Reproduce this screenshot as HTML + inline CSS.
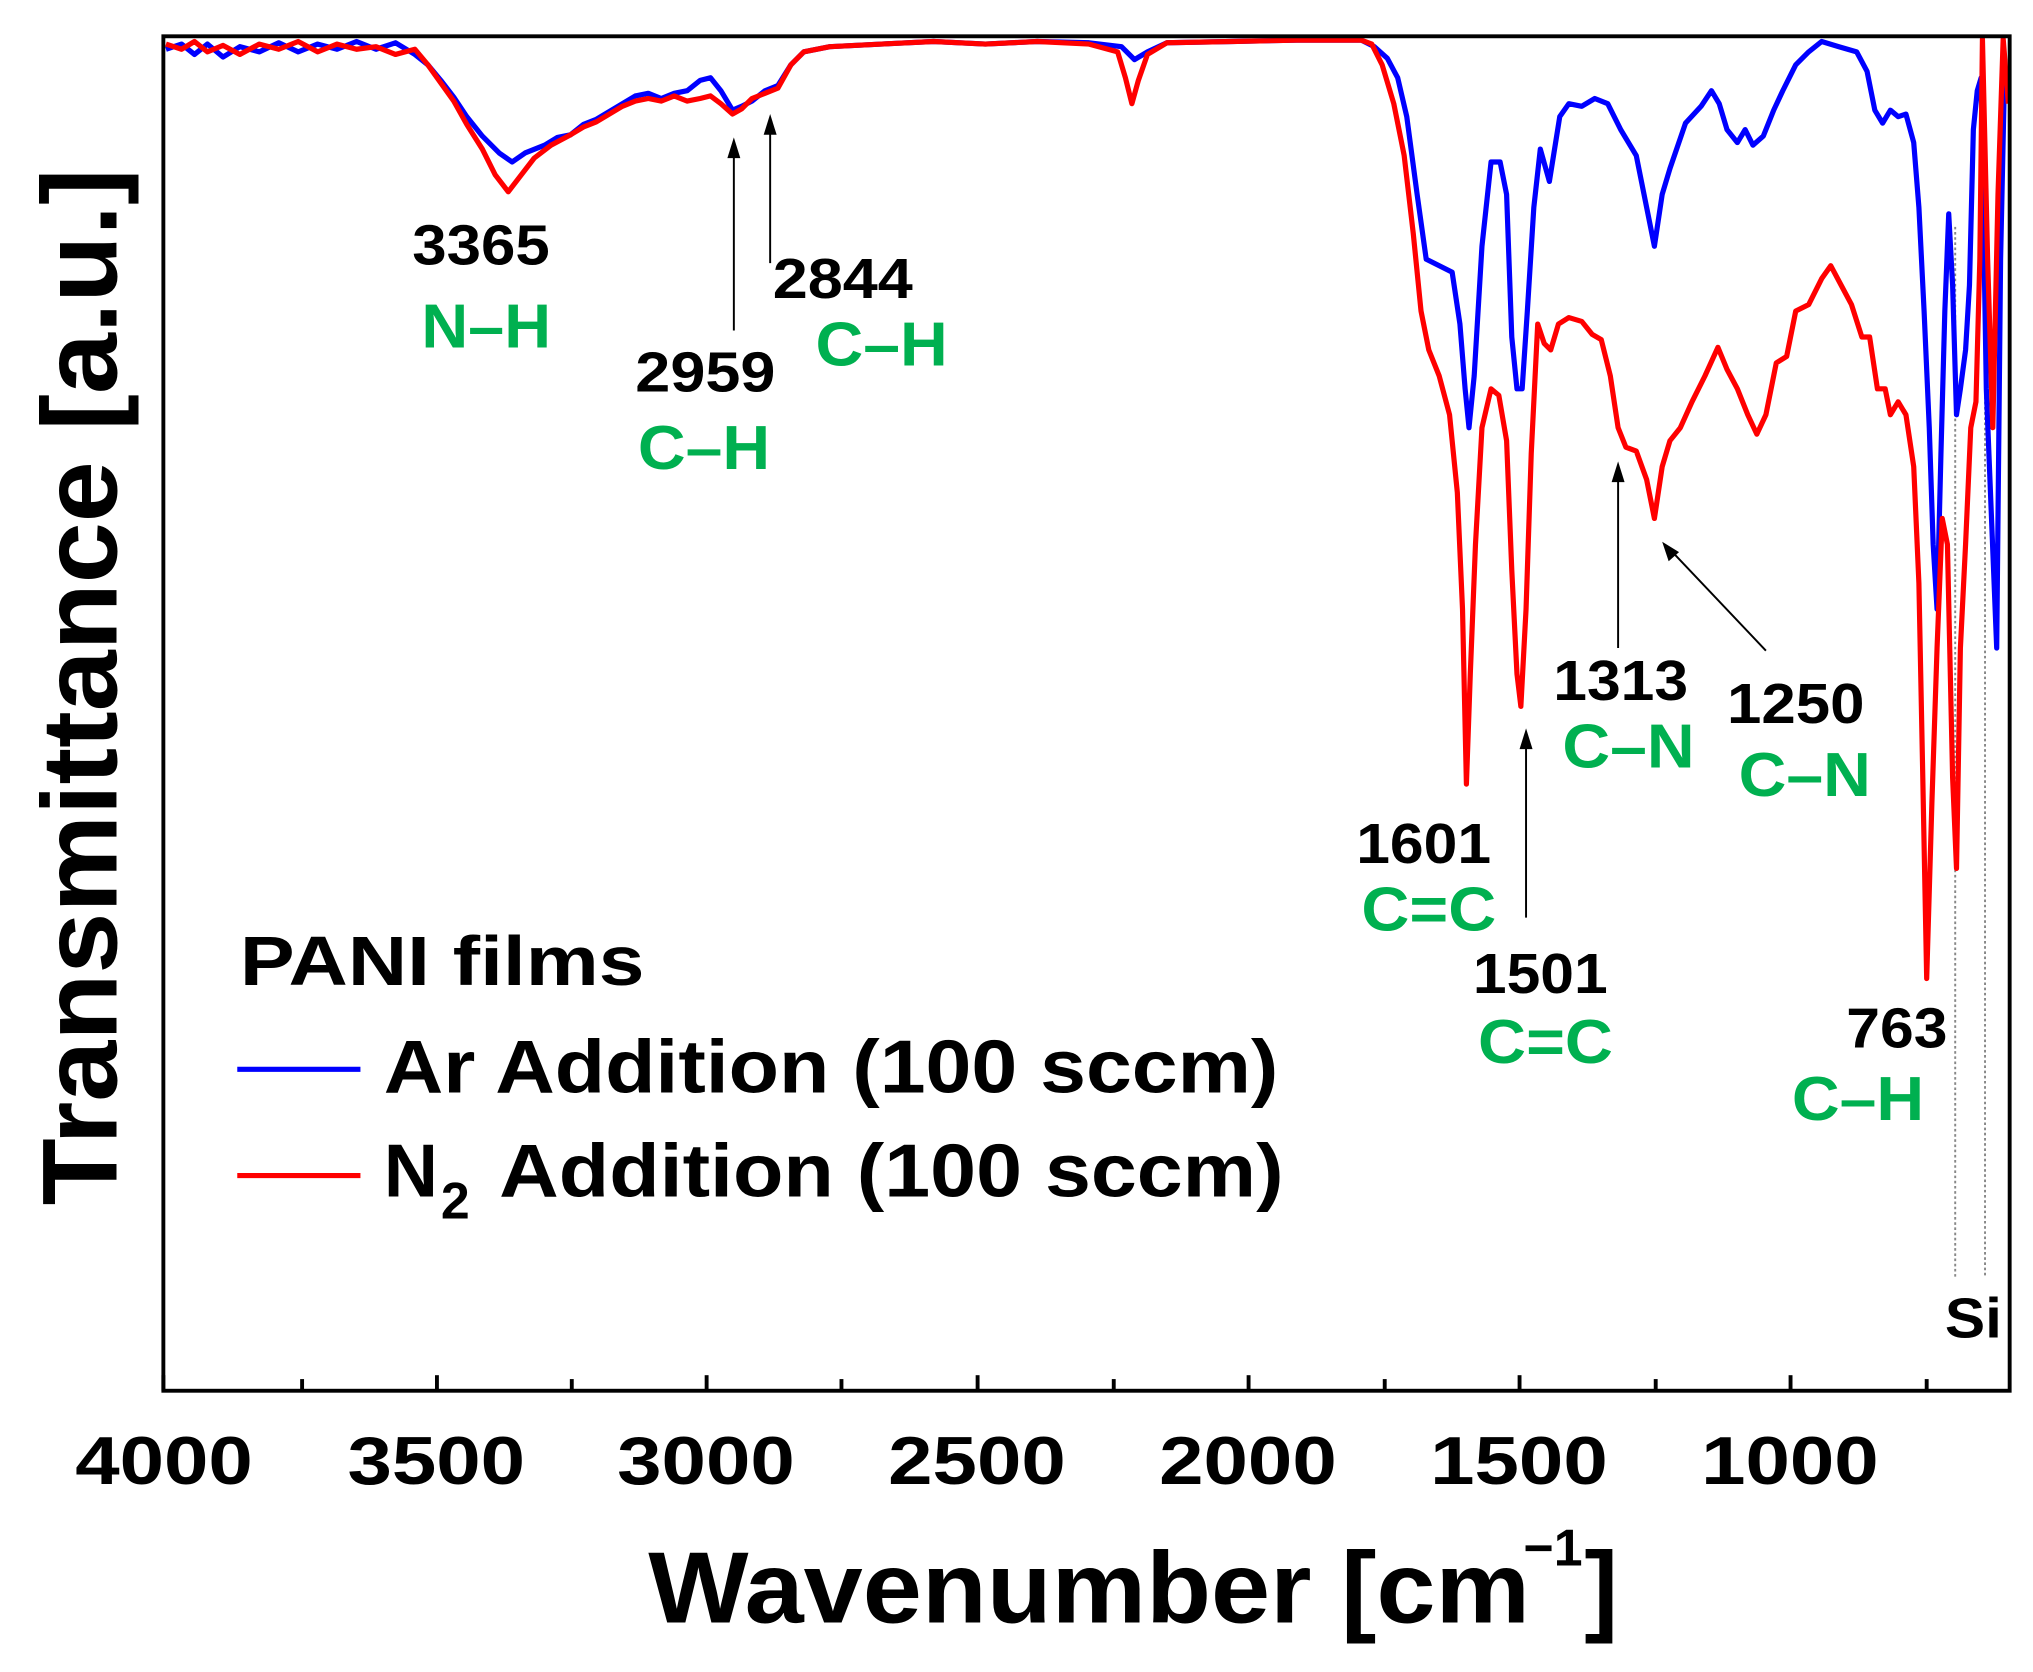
<!DOCTYPE html>
<html><head><meta charset="utf-8"><style>
html,body{margin:0;padding:0;background:#fff;}
svg{display:block;}
text{font-family:"Liberation Sans",Arial,sans-serif;font-weight:bold;}
</style></head><body>
<svg width="2033" height="1672" viewBox="0 0 1568 1290" preserveAspectRatio="none" xmlns="http://www.w3.org/2000/svg">
<rect x="0" y="0" width="1568" height="1290" fill="#fff"/>
<line x1="1508" y1="175" x2="1508" y2="985" stroke="#888" stroke-width="1.5" stroke-dasharray="2,2"/>
<line x1="1531" y1="110" x2="1531" y2="985" stroke="#888" stroke-width="1.5" stroke-dasharray="2,2"/>
<polyline fill="none" stroke="#0000ff" stroke-width="4" stroke-linejoin="round" points="
128,38 140,34 150,42 160,34 172,44 185,36 200,40 215,33 230,40 245,34 260,38 275,32 290,38 305,33 320,42 330,50 340,62 350,75 360,90 372,105 385,118 395,125 405,118 420,112 430,106 440,104 450,96 460,92 470,86 480,80 490,74 500,72 510,76 520,72 530,70 540,62 548,60 556,70 565,85 572,82 580,78 590,70 600,66 610,50 620,40 640,36 680,34 720,32 760,34 800,32 840,33 865,36 875,46 885,40 900,33 950,32 1000,31 1050,31 1060,36 1070,45 1078,60 1085,90 1093,150 1100,200 1110,205 1120,210 1126,250 1130,300 1133,330 1137,290 1143,190 1150,125 1157,125 1162,150 1166,260 1170,300 1174,300 1178,240 1183,160 1188,115 1195,140 1203,90 1210,80 1220,82 1230,76 1240,80 1250,100 1262,120 1270,160 1276,190 1282,150 1288,130 1300,95 1312,82 1320,70 1326,80 1332,100 1340,110 1346,100 1352,112 1360,105 1368,85 1375,70 1385,50 1395,40 1405,32 1418,36 1432,40 1440,55 1446,85 1452,95 1458,85 1464,90 1470,88 1476,110 1480,160 1484,240 1488,330 1491,420 1494,470 1497,350 1500,240 1503,165 1506,220 1509,320 1512,300 1516,270 1519,220 1522,100 1525,70 1528,60 1532,300 1536,400 1540,500 1543,200 1546,60"/>
<polyline fill="none" stroke="#ff0000" stroke-width="4" stroke-linejoin="round" points="
128,34 140,38 150,32 160,40 172,35 185,42 200,34 215,38 230,32 245,40 260,34 275,38 290,36 305,42 320,38 330,50 340,64 350,78 360,96 372,115 382,135 392,148 402,135 412,122 425,112 440,104 450,98 460,94 470,88 480,82 490,78 500,76 510,78 520,74 530,78 540,76 548,74 556,80 565,88 572,84 580,76 590,72 600,68 610,50 620,40 640,36 680,34 720,32 760,34 800,32 840,34 862,40 868,60 873,80 878,62 885,42 900,33 950,32 1000,31 1050,31 1058,34 1066,50 1075,80 1083,120 1090,180 1096,240 1102,270 1110,290 1118,320 1124,380 1128,470 1131,605 1134,520 1138,420 1143,330 1150,300 1156,305 1162,340 1166,440 1170,520 1173,545 1177,470 1181,350 1186,250 1191,265 1196,270 1202,250 1210,245 1220,248 1228,258 1235,262 1242,290 1248,330 1254,345 1262,348 1270,370 1276,400 1282,360 1288,340 1296,330 1305,310 1315,290 1325,268 1332,285 1340,300 1348,320 1355,335 1362,320 1370,280 1378,275 1385,240 1395,235 1405,215 1412,205 1420,220 1428,235 1436,260 1442,260 1448,300 1454,300 1458,320 1464,310 1470,320 1476,360 1480,450 1483,600 1486,755 1490,620 1494,500 1498,400 1502,420 1506,600 1509,670 1512,500 1516,420 1520,330 1524,310 1527,200 1529,30 1533,200 1537,330 1541,150 1545,30 1549,80"/>
<rect x="126" y="28" width="1424" height="1045" fill="none" stroke="#000" stroke-width="3"/>
<g stroke="#000" stroke-width="3">
<line x1="126" y1="1073" x2="126" y2="1061"/><line x1="233" y1="1073" x2="233" y2="1064"/>
<line x1="337" y1="1073" x2="337" y2="1061"/><line x1="441" y1="1073" x2="441" y2="1064"/>
<line x1="545" y1="1073" x2="545" y2="1061"/><line x1="649" y1="1073" x2="649" y2="1064"/>
<line x1="754" y1="1073" x2="754" y2="1061"/><line x1="859" y1="1073" x2="859" y2="1064"/>
<line x1="963" y1="1073" x2="963" y2="1061"/><line x1="1068" y1="1073" x2="1068" y2="1064"/>
<line x1="1172" y1="1073" x2="1172" y2="1061"/><line x1="1277" y1="1073" x2="1277" y2="1064"/>
<line x1="1381" y1="1073" x2="1381" y2="1061"/><line x1="1486" y1="1073" x2="1486" y2="1064"/>
</g>
<g font-size="52" fill="#000">
<text x="58" y="1145" textLength="137" lengthAdjust="spacingAndGlyphs">4000</text>
<text x="268" y="1145" textLength="137" lengthAdjust="spacingAndGlyphs">3500</text>
<text x="476" y="1145" textLength="137" lengthAdjust="spacingAndGlyphs">3000</text>
<text x="685" y="1145" textLength="137" lengthAdjust="spacingAndGlyphs">2500</text>
<text x="894" y="1145" textLength="137" lengthAdjust="spacingAndGlyphs">2000</text>
<text x="1103" y="1145" textLength="137" lengthAdjust="spacingAndGlyphs">1500</text>
<text x="1312" y="1145" textLength="137" lengthAdjust="spacingAndGlyphs">1000</text>
</g>
<text x="500" y="1252" font-size="78" textLength="680" lengthAdjust="spacingAndGlyphs">Wavenumber [cm</text>
<text x="1175" y="1208" font-size="40">−1</text>
<text x="1222" y="1252" font-size="78">]</text>
<text transform="translate(90,930) rotate(-90)" font-size="82" textLength="800" lengthAdjust="spacingAndGlyphs">Transmittance [a.u.]</text>
<text x="185" y="760" font-size="54" textLength="312" lengthAdjust="spacingAndGlyphs">PANI films</text>
<line x1="183" y1="825" x2="278" y2="825" stroke="#0000ff" stroke-width="4"/>
<text x="296" y="843" font-size="58" textLength="690" lengthAdjust="spacingAndGlyphs">Ar Addition (100 sccm)</text>
<line x1="183" y1="907" x2="278" y2="907" stroke="#ff0000" stroke-width="4"/>
<text x="296" y="923" font-size="58">N</text>
<text x="340" y="940" font-size="40">2</text>
<text x="385" y="923" font-size="58" textLength="605" lengthAdjust="spacingAndGlyphs">Addition (100 sccm)</text>
<g stroke="#000" stroke-width="1.5">
<line x1="566" y1="255" x2="566" y2="118"/>
<line x1="594" y1="203" x2="594" y2="100"/>
<line x1="1177" y1="708" x2="1177" y2="574"/>
<line x1="1248" y1="500" x2="1248" y2="368"/>
<line x1="1362" y1="502" x2="1290" y2="426"/>
</g>
<g fill="#000">
<polygon points="566,106 561,122 571,122"/>
<polygon points="594,88 589,104 599,104"/>
<polygon points="1177,562 1172,578 1182,578"/>
<polygon points="1248,356 1243,372 1253,372"/>
<polygon points="1282,418 1287,433 1295,426"/>
</g>
<g font-size="44" fill="#000">
<text x="318" y="204" textLength="106" lengthAdjust="spacingAndGlyphs">3365</text>
<text x="490" y="302" textLength="108" lengthAdjust="spacingAndGlyphs">2959</text>
<text x="596" y="230" textLength="108" lengthAdjust="spacingAndGlyphs">2844</text>
<text x="1046" y="666" textLength="104" lengthAdjust="spacingAndGlyphs">1601</text>
<text x="1136" y="766" textLength="104" lengthAdjust="spacingAndGlyphs">1501</text>
<text x="1198" y="540" textLength="104" lengthAdjust="spacingAndGlyphs">1313</text>
<text x="1332" y="558" textLength="106" lengthAdjust="spacingAndGlyphs">1250</text>
<text x="1424" y="808" textLength="78" lengthAdjust="spacingAndGlyphs">763</text>
<text x="1500" y="1032" textLength="44" lengthAdjust="spacingAndGlyphs">Si</text>
</g>
<g font-size="48" fill="#00b050">
<text x="325" y="268" textLength="100" lengthAdjust="spacingAndGlyphs">N–H</text>
<text x="492" y="362" textLength="102" lengthAdjust="spacingAndGlyphs">C–H</text>
<text x="629" y="282" textLength="102" lengthAdjust="spacingAndGlyphs">C–H</text>
<text x="1050" y="718" textLength="104" lengthAdjust="spacingAndGlyphs">C=C</text>
<text x="1140" y="820" textLength="104" lengthAdjust="spacingAndGlyphs">C=C</text>
<text x="1205" y="592" textLength="102" lengthAdjust="spacingAndGlyphs">C–N</text>
<text x="1341" y="614" textLength="102" lengthAdjust="spacingAndGlyphs">C–N</text>
<text x="1382" y="864" textLength="102" lengthAdjust="spacingAndGlyphs">C–H</text>
</g>
</svg>
</body></html>
